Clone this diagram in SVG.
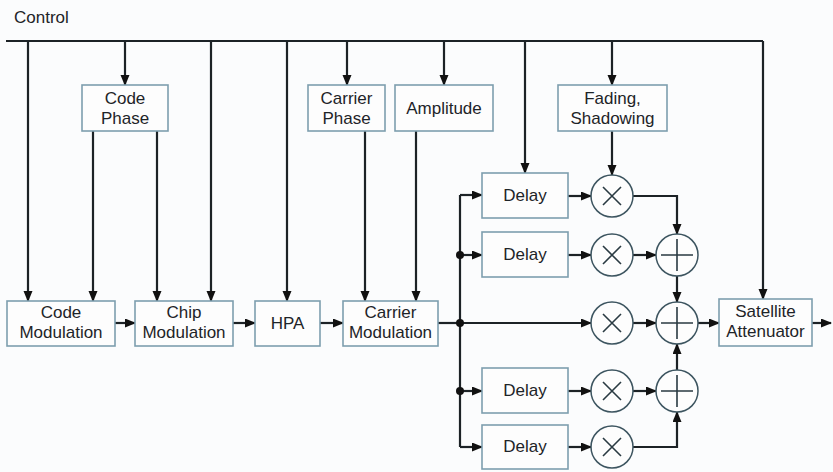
<svg xmlns="http://www.w3.org/2000/svg" width="833" height="472" viewBox="0 0 833 472">
<style>
.bg{fill:#fbfcfd}
.box{fill:#fdfdfd;stroke:#7d9eae;stroke-width:1.6}
.t{font-family:"Liberation Sans",Arial,sans-serif;font-size:17px;fill:#1e2428;text-anchor:middle}
.w{fill:none;stroke:#1c2226;stroke-width:2.2}
.a{fill:none;stroke:#1c2226;stroke-width:2.2;marker-end:url(#ah)}
.c{fill:#fdfdfd;stroke:#3d5560;stroke-width:1.5}
.s{fill:none;stroke:#2a3a42;stroke-width:1.6}
.dot{fill:#111}
</style>
<defs>
<marker id="ah" markerUnits="userSpaceOnUse" markerWidth="11" markerHeight="10" refX="10" refY="4.5" orient="auto">
<path d="M0,0 L11,4.5 L0,9 z" fill="#111"/>
</marker>
</defs>
<rect class="bg" x="0" y="0" width="833" height="472"/>
<text class="t" x="14" y="23" style="text-anchor:start;font-size:17px">Control</text>

<g id="connectors">
<path class="w" d="M6,41 H763"/>
<path class="a" d="M763,41 V299"/>
<path class="a" d="M28,41 V301"/>
<path class="a" d="M125,41 V85"/>
<path class="a" d="M211,41 V301"/>
<path class="a" d="M287,41 V301"/>
<path class="a" d="M347,41 V85"/>
<path class="a" d="M444,41 V85"/>
<path class="a" d="M525,41 V173"/>
<path class="a" d="M612,41 V85"/>
<path class="a" d="M93,131 V301"/>
<path class="a" d="M157,131 V301"/>
<path class="a" d="M365,131 V301"/>
<path class="a" d="M416,131 V301"/>
<path class="a" d="M612,131 V175"/>
<path class="a" d="M115,323 H135"/>
<path class="a" d="M233,323 H255"/>
<path class="a" d="M320,323 H343"/>
<path class="w" d="M438,323 H460"/>
<path class="a" d="M460,323 H591"/>
<path class="w" d="M460,195 V447"/>
<path class="a" d="M460,195 H482"/>
<path class="a" d="M460,255 H482"/>
<path class="a" d="M460,391 H482"/>
<path class="a" d="M460,447 H482"/>
<path class="a" d="M568,196 H591"/>
<path class="a" d="M568,255 H591"/>
<path class="a" d="M568,391 H591"/>
<path class="a" d="M568,447 H591"/>
<path class="a" d="M633,255 H656"/>
<path class="a" d="M633,323 H656"/>
<path class="a" d="M633,391 H656"/>
<path class="a" d="M633,196 H677 V234"/>
<path class="a" d="M633,447 H677 V412"/>
<path class="a" d="M677,276 V302"/>
<path class="a" d="M677,370 V344"/>
<path class="a" d="M698,323 H719"/>
<path class="a" d="M812,323 H831"/>
<circle class="dot" cx="460" cy="323" r="4"/>
<circle class="dot" cx="460" cy="255" r="4"/>
<circle class="dot" cx="460" cy="391" r="4"/>
</g>

<g id="code-phase"><rect class="box" x="82" y="85" width="86" height="46"/><text class="t" x="125" y="104">Code</text><text class="t" x="125" y="124">Phase</text></g>
<g id="carrier-phase"><rect class="box" x="308" y="85" width="77" height="46"/><text class="t" x="346.5" y="104">Carrier</text><text class="t" x="346.5" y="124">Phase</text></g>
<g id="amplitude"><rect class="box" x="395" y="85" width="98" height="46"/><text class="t" x="444" y="114">Amplitude</text></g>
<g id="fading"><rect class="box" x="558" y="85" width="109" height="46"/><text class="t" x="612.5" y="104">Fading,</text><text class="t" x="612.5" y="124">Shadowing</text></g>

<g id="code-mod"><rect class="box" x="7" y="301" width="108" height="45"/><text class="t" x="61" y="318">Code</text><text class="t" x="61" y="338">Modulation</text></g>
<g id="chip-mod"><rect class="box" x="135" y="301" width="98" height="45"/><text class="t" x="184" y="318">Chip</text><text class="t" x="184" y="338">Modulation</text></g>
<g id="hpa"><rect class="box" x="255" y="301" width="65" height="45"/><text class="t" x="287.5" y="329">HPA</text></g>
<g id="carrier-mod"><rect class="box" x="343" y="301" width="95" height="45"/><text class="t" x="390.5" y="318">Carrier</text><text class="t" x="390.5" y="338">Modulation</text></g>
<g id="sat-att"><rect class="box" x="719" y="299" width="93" height="47"/><text class="t" x="765.5" y="317">Satellite</text><text class="t" x="765.5" y="337">Attenuator</text></g>

<g id="delay1"><rect class="box" x="482" y="173" width="86" height="45"/><text class="t" x="525" y="201">Delay</text></g>
<g id="delay2"><rect class="box" x="482" y="232" width="86" height="45"/><text class="t" x="525" y="260">Delay</text></g>
<g id="delay3"><rect class="box" x="482" y="368" width="86" height="45"/><text class="t" x="525" y="396">Delay</text></g>
<g id="delay4"><rect class="box" x="482" y="425" width="86" height="44"/><text class="t" x="525" y="452">Delay</text></g>

<g id="mul1"><circle class="c" cx="612" cy="196" r="21"/><path class="s" d="M603,187 L621,205 M621,187 L603,205"/></g>
<g id="mul2"><circle class="c" cx="612" cy="255" r="21"/><path class="s" d="M603,246 L621,264 M621,246 L603,264"/></g>
<g id="mul3"><circle class="c" cx="612" cy="323" r="21"/><path class="s" d="M603,314 L621,332 M621,314 L603,332"/></g>
<g id="mul4"><circle class="c" cx="612" cy="391" r="21"/><path class="s" d="M603,382 L621,400 M621,382 L603,400"/></g>
<g id="mul5"><circle class="c" cx="612" cy="447" r="21"/><path class="s" d="M603,438 L621,456 M621,438 L603,456"/></g>

<g id="add1"><circle class="c" cx="677" cy="255" r="21"/><path class="s" d="M661,255 H693 M677,239 V271"/></g>
<g id="add2"><circle class="c" cx="677" cy="323" r="21"/><path class="s" d="M661,323 H693 M677,307 V339"/></g>
<g id="add3"><circle class="c" cx="677" cy="391" r="21"/><path class="s" d="M661,391 H693 M677,375 V407"/></g>
</svg>
